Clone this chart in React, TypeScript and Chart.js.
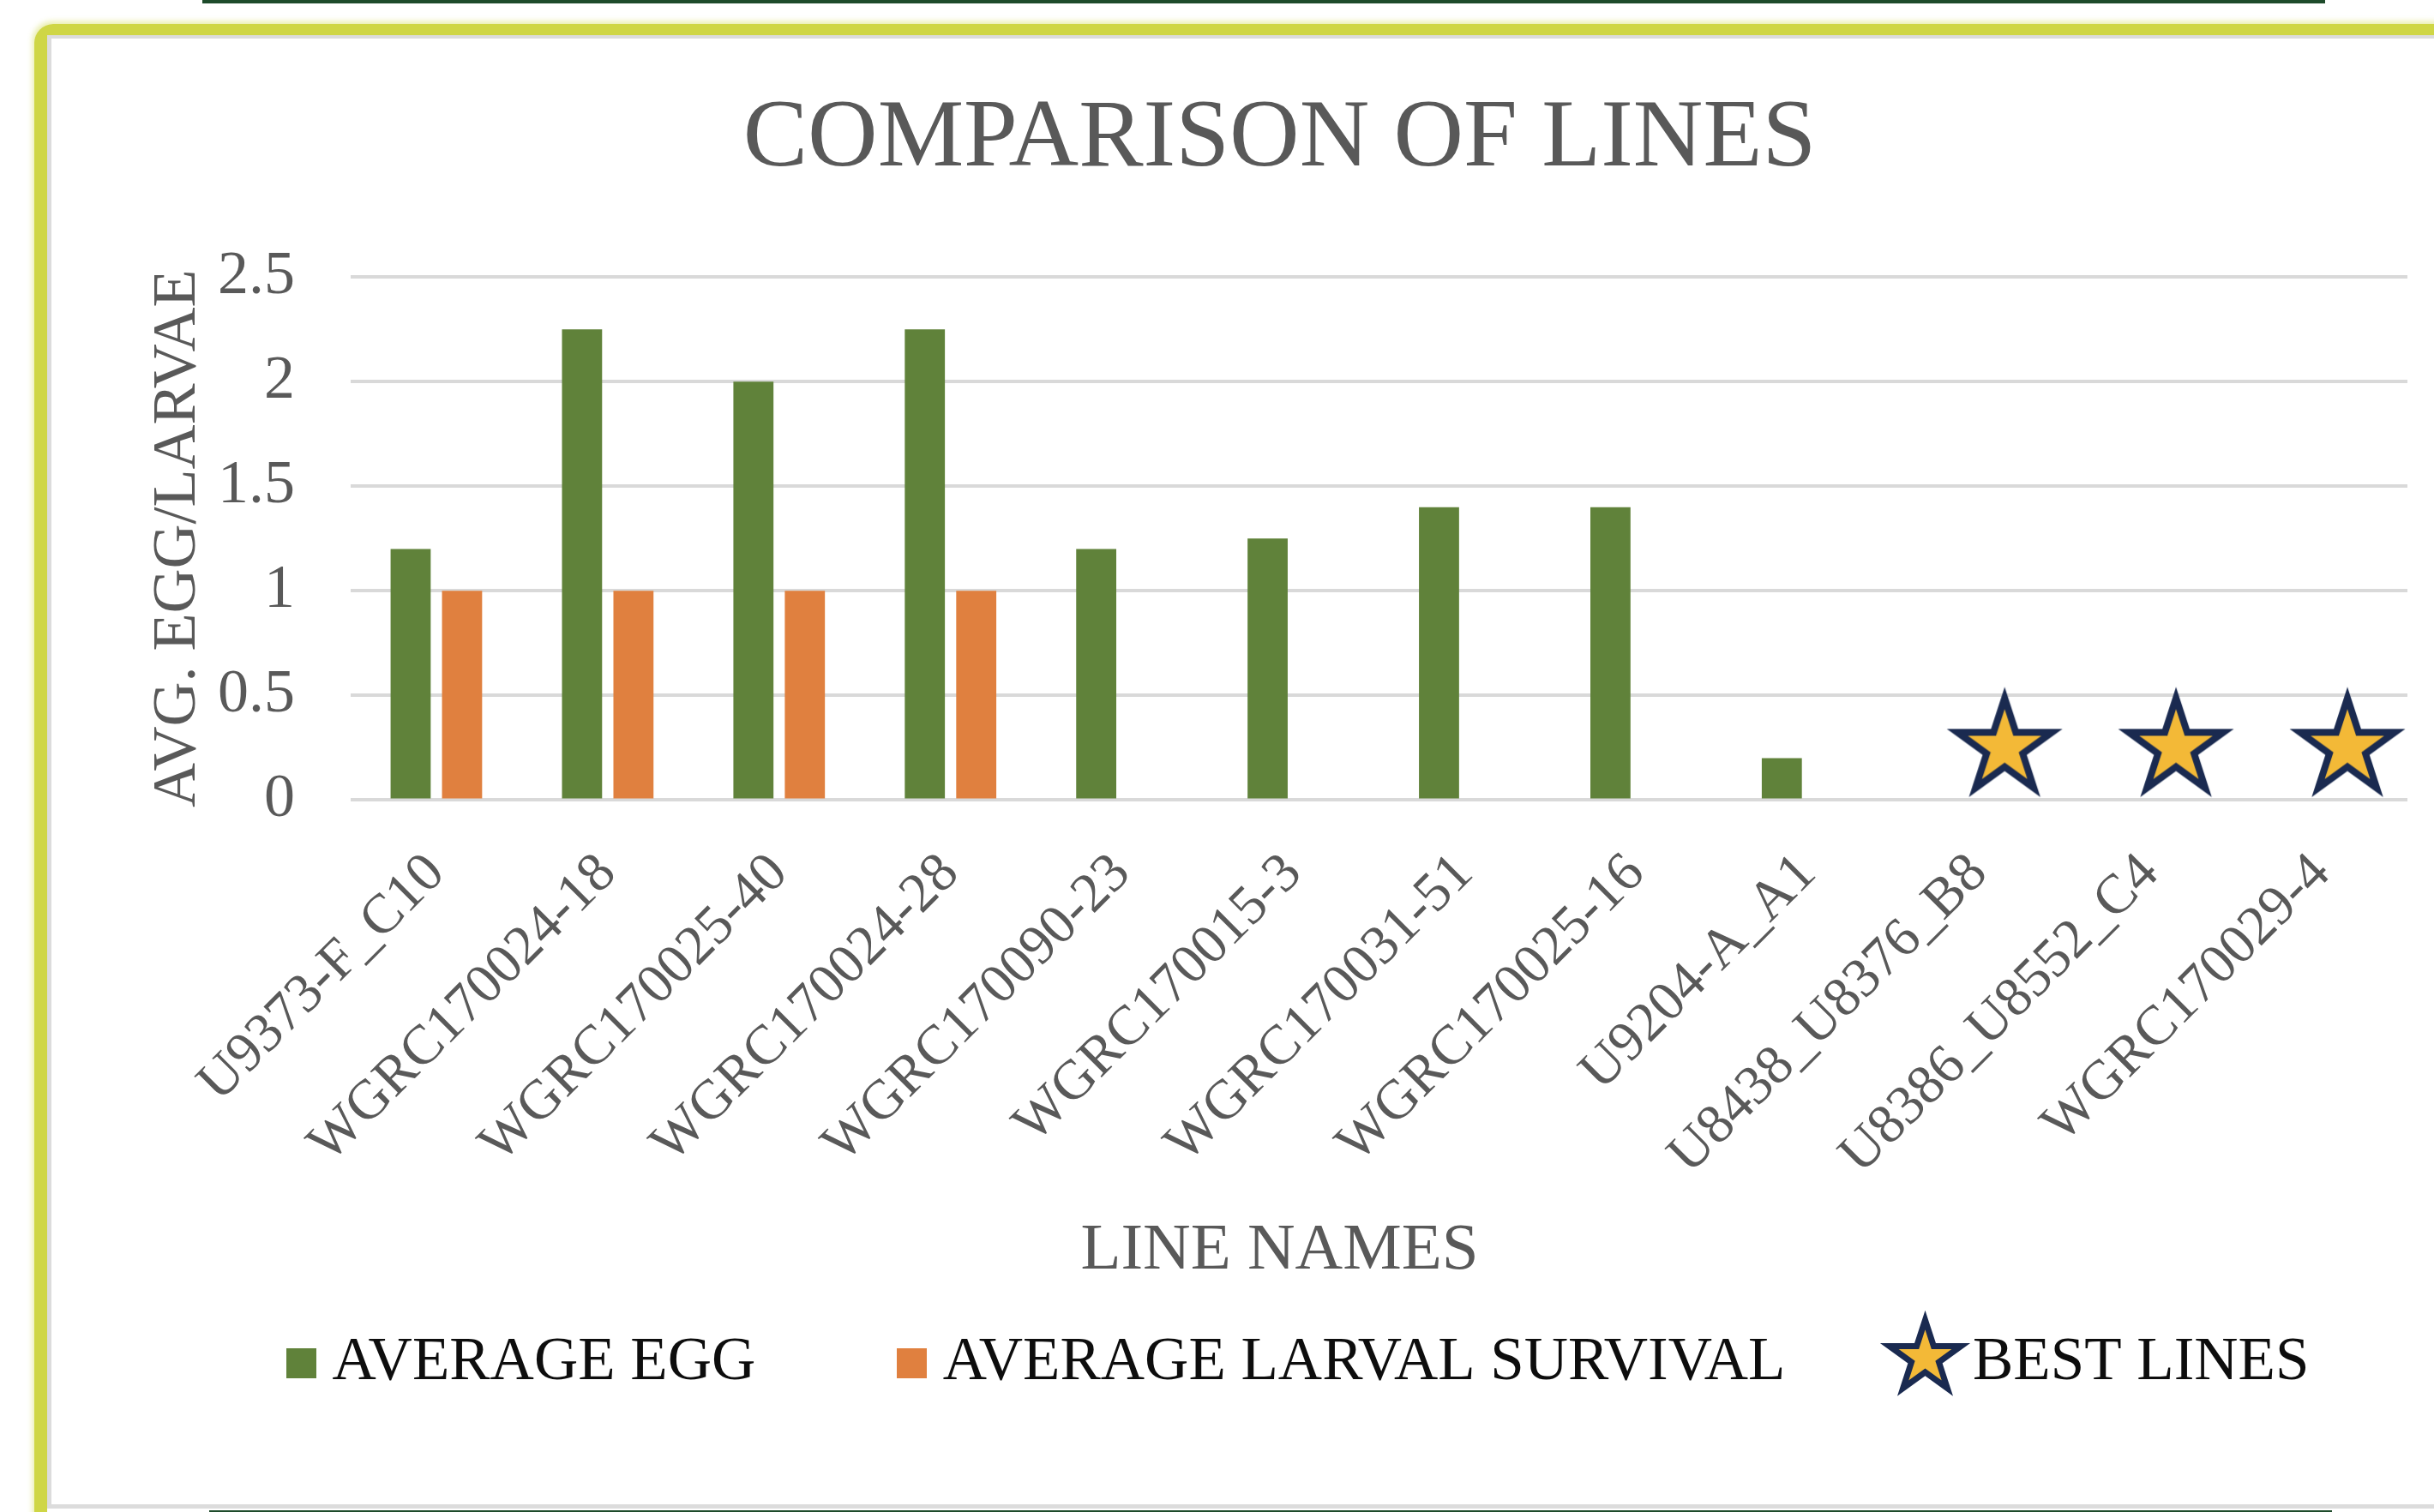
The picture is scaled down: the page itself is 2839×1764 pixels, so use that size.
import React, { useEffect, useRef } from 'react';
import { Chart, registerables } from 'chart.js';

Chart.register(...registerables);

// ---------------- data ----------------
const categories = [
  'U9373-F_C10',
  'WGRC170024-18',
  'WGRC170025-40',
  'WGRC170024-28',
  'WGRC170090-23',
  'WGRC170015-3',
  'WGRC170031-51',
  'WGRC170025-16',
  'U9204-A_A1',
  'U8438_U8376_B8',
  'U8386_U8552_C4',
  'WGRC170029-4',
];
const averageEgg = [1.2, 2.25, 2.0, 2.25, 1.2, 1.25, 1.4, 1.4, 0.2, 0, 0, 0];
const averageLarvalSurvival = [1, 1, 1, 1, 0, 0, 0, 0, 0, 0, 0, 0];
const bestLines = [null, null, null, null, null, null, null, null, null, 0.25, 0.25, 0.25];
const yTicks = [0, 0.5, 1, 1.5, 2, 2.5];
const seriesNames = ['AVERAGE EGG', 'AVERAGE LARVAL SURVIVAL', 'BEST LINES'];
const chartTitle = 'COMPARISON OF LINES';
const xTitle = 'LINE NAMES';
const yTitle = 'AVG. EGG/LARVAE';

// ---------------- styles ----------------
const SERIF = "'Liberation Serif', 'Times New Roman', serif";
const GREEN = '#60823A';
const ORANGE = '#E0803F';
const STAR_FILL = '#F3B937';
const STAR_EDGE = '#1A2A50';
const TEXT_GRAY = '#595959';
const GRID = '#D9D9D9';
const YELLOW = '#CFD646';

const CANVAS_W = 2779;
const CANVAS_H = 1710;
const LEGEND_FONT = 71;
const LEGEND_PAD = 182;
const LEGEND_X = 291;
const LEGEND_Y = 1545;

function makeStar(R: number, lw: number, w: number, h: number, cx: number, cy: number) {
  const c = document.createElement('canvas');
  c.width = w;
  c.height = h;
  const ctx = c.getContext('2d')!;
  ctx.beginPath();
  for (let k = 0; k < 10; k++) {
    const r = k % 2 === 0 ? R : R * 0.382;
    const a = -Math.PI / 2 + (k * Math.PI) / 5;
    const x = cx + r * Math.cos(a);
    const y = cy + r * Math.sin(a);
    if (k === 0) ctx.moveTo(x, y);
    else ctx.lineTo(x, y);
  }
  ctx.closePath();
  ctx.fillStyle = STAR_FILL;
  ctx.fill();
  ctx.lineWidth = lw;
  ctx.lineJoin = 'miter';
  ctx.miterLimit = 10;
  ctx.strokeStyle = STAR_EDGE;
  ctx.stroke();
  return c;
}

function makeSquare(size: number, color: string) {
  const c = document.createElement('canvas');
  c.width = size;
  c.height = size;
  const ctx = c.getContext('2d')!;
  ctx.fillStyle = color;
  ctx.fillRect(0, 0, size, size);
  return c;
}

const placementPlugin = {
  id: 'placement',
  afterLayout(chart: any) {
    const lg = chart.legend;
    if (lg) {
      lg.left = LEGEND_X - LEGEND_PAD;
      lg.width = 2800;
      lg.right = lg.left + lg.width;
      lg.top = LEGEND_Y - LEGEND_PAD - LEGEND_FONT / 2;
      lg.height = LEGEND_PAD + LEGEND_FONT + 90;
      lg.bottom = lg.top + lg.height;
    }
  },
  beforeDatasetsDraw(chart: any) {
    const stars = chart.getDatasetMeta(2);
    const ref = chart.getDatasetMeta(1);
    stars.data.forEach((pt: any, i: number) => {
      const b = ref.data[i];
      if (b) pt.x = b.x;
    });
  },
};

export default function App() {
  const canvasRef = useRef<HTMLCanvasElement | null>(null);

  useEffect(() => {
    if (!canvasRef.current) return;
    const starPoint = makeStar(58, 8, 150, 150, 75, 75);
    const starLegend = makeStar(44, 7, 170, 130, 65.5, 59);
    const sqGreen = makeSquare(35, GREEN);
    const sqOrange = makeSquare(35, ORANGE);

    const chart = new Chart(canvasRef.current, {
      type: 'bar',
      data: {
        labels: categories,
        datasets: [
          {
            label: seriesNames[0],
            data: averageEgg,
            backgroundColor: GREEN,
            borderWidth: 0,
            categoryPercentage: 0.6,
            barPercentage: 0.78,
          } as any,
          {
            label: seriesNames[1],
            data: averageLarvalSurvival,
            backgroundColor: ORANGE,
            borderWidth: 0,
            categoryPercentage: 0.6,
            barPercentage: 0.78,
          } as any,
          {
            type: 'line',
            label: seriesNames[2],
            data: bestLines,
            showLine: false,
            pointStyle: starPoint,
            pointRadius: 30,
            borderColor: STAR_EDGE,
            backgroundColor: STAR_FILL,
            clip: false,
          } as any,
        ],
      },
      options: {
        responsive: false,
        animation: false,
        devicePixelRatio: 1,
        events: [],
        layout: { padding: { left: 110, right: 24, top: 0, bottom: 0 } },
        scales: {
          x: {
            grid: { display: false },
            border: { display: false },
            ticks: {
              autoSkip: false,
              maxRotation: 45,
              minRotation: 45,
              padding: 40,
              color: TEXT_GRAY,
              font: { family: SERIF, size: 65 },
            },
            afterFit(scale: any) {
              scale.height = 480.4;
            },
          },
          y: {
            min: 0,
            max: 2.5,
            afterBuildTicks(scale: any) {
              scale.ticks = yTicks.map((v) => ({ value: v }));
            },
            grid: { color: GRID, lineWidth: 4, drawTicks: false },
            border: { display: false },
            ticks: {
              padding: 65,
              color: TEXT_GRAY,
              font: { family: SERIF, size: 72 },
              callback: (v: any) => String(v),
            },
            title: {
              display: true,
              text: yTitle,
              color: TEXT_GRAY,
              font: { family: SERIF, size: 72, lineHeight: 1 },
              padding: { top: 2, bottom: 0 },
            },
            afterFit(scale: any) {
              scale.width = 239;
            },
          },
        },
        plugins: {
          tooltip: { enabled: false },
          title: {
            display: true,
            text: chartTitle,
            color: TEXT_GRAY,
            font: { family: SERIF, size: 113, weight: 'normal', lineHeight: 1.2 },
            padding: { top: 50.2, bottom: 92.4 },
          },
          subtitle: {
            display: true,
            text: xTitle,
            position: 'bottom',
            weight: 500,
            color: TEXT_GRAY,
            font: { family: SERIF, size: 77, weight: 'normal', lineHeight: 1.2 },
            padding: { top: 0, bottom: 68.8 },
          } as any,
          legend: {
            position: 'bottom',
            align: 'start',
            maxHeight: 180,
            labels: {
              usePointStyle: true,
              boxWidth: 1,
              boxHeight: 1,
              padding: LEGEND_PAD,
              color: '#0d0d0d',
              font: { family: SERIF, size: LEGEND_FONT },
              generateLabels: () => {
                const styles = [sqGreen, sqOrange, starLegend];
                const fills = [GREEN, ORANGE, STAR_FILL];
                return seriesNames.map((name, i) => ({
                  text: name,
                  pointStyle: styles[i] as any,
                  fillStyle: fills[i],
                  strokeStyle: fills[i],
                  lineWidth: 0,
                  hidden: false,
                  datasetIndex: i,
                  fontColor: '#0d0d0d',
                }));
              },
            },
          } as any,
        },
      } as any,
      plugins: [placementPlugin as any],
    });
    return () => chart.destroy();
  }, []);

  return (
    <div
      style={{
        position: 'fixed',
        left: 0,
        top: 0,
        width: 2839,
        height: 1764,
        background: '#ffffff',
        overflow: 'hidden',
      }}
    >
      <div style={{ position: 'absolute', left: 236, top: 0, width: 2476, height: 4, background: '#1E4B2B' }} />
      <div
        style={{
          position: 'absolute',
          left: 40,
          top: 28,
          width: 2839,
          height: 1800,
          borderLeft: `15px solid ${YELLOW}`,
          borderTop: `13px solid ${YELLOW}`,
          borderTopLeftRadius: 22,
          boxShadow: '-2px -3px 6px rgba(207,214,70,0.45)',
        }}
      />
      <div
        style={{
          position: 'absolute',
          left: 55,
          top: 41,
          width: 2839,
          height: 1714,
          borderLeft: '5px solid #DCDCDC',
          borderTop: '4px solid #DCDCDC',
          boxSizing: 'border-box',
        }}
      />
      <div style={{ position: 'absolute', left: 55, top: 1755, width: 2784, height: 5, background: '#DCDCDC' }} />
      <div style={{ position: 'absolute', left: 244, top: 1762, width: 2476, height: 2, background: '#1E4B2B' }} />
      <canvas
        ref={canvasRef}
        width={CANVAS_W}
        height={CANVAS_H}
        style={{ position: 'absolute', left: 60, top: 45, width: CANVAS_W, height: CANVAS_H }}
      />
    </div>
  );
}
